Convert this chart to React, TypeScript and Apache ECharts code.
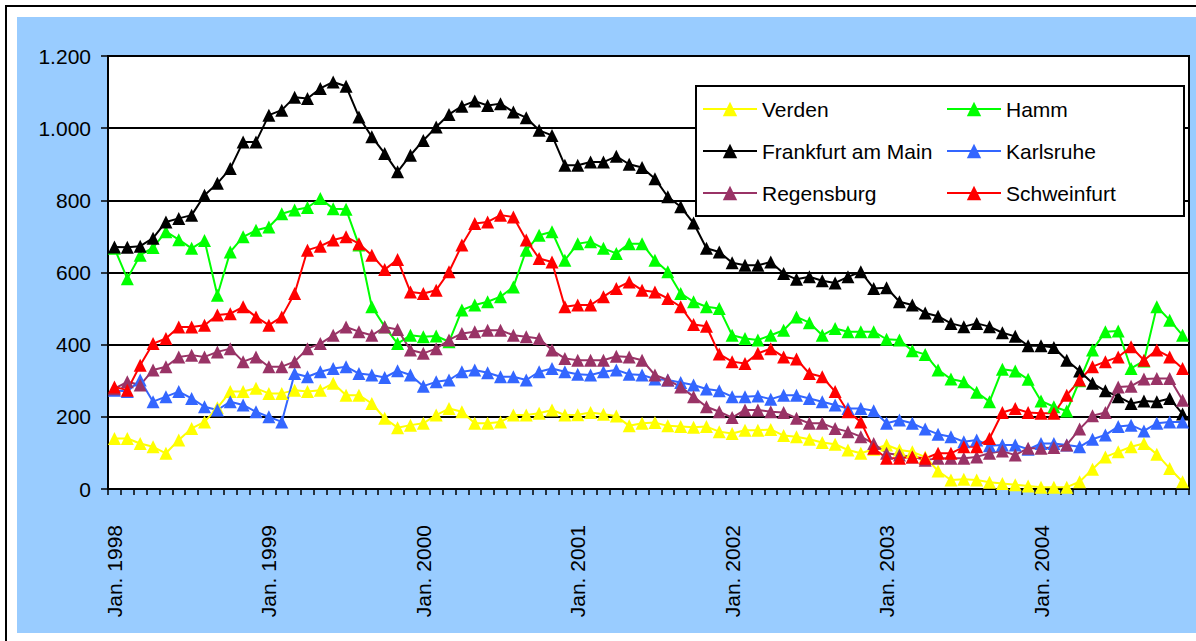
import React, { useEffect, useRef } from "react";
import * as echarts from "echarts";

const monthNames = ["Jan.", "Feb.", "März", "Apr.", "Mai", "Juni", "Juli", "Aug.", "Sep.", "Okt.", "Nov.", "Dez."];
const years = [1998, 1999, 2000, 2001, 2002, 2003, 2004];
const categories: string[] = [];
years.forEach((y) => monthNames.forEach((m) => categories.push(`${m} ${y}`)));

const seriesNames = ["Verden", "Hamm", "Frankfurt am Main", "Karlsruhe", "Regensburg", "Schweinfurt"];
const seriesColors = ["#FFFF00", "#00FF00", "#000000", "#3366FF", "#993366", "#FF0000"];

const verden = [140, 140, 126, 117, 99, 136, 168, 186, 225, 270, 270, 279, 265, 265, 274, 270, 274, 293, 260, 260, 237, 196, 170, 177, 182, 205, 223, 214, 182, 182, 186, 205, 205, 210, 219, 205, 206, 212, 207, 202, 175, 182, 184, 175, 173, 171, 173, 159, 154, 163, 163, 165, 148, 145, 138, 129, 124, 108, 99, 110, 122, 108, 103, 89, 50, 25, 27, 25, 19, 15, 12, 8, 5, 5, 5, 20, 55, 89, 103, 117, 126, 96, 57, 20];
const hamm = [667, 583, 648, 669, 713, 691, 667, 689, 537, 657, 699, 717, 726, 763, 773, 780, 805, 777, 775, 676, 505, 450, 403, 426, 422, 424, 408, 496, 510, 519, 533, 560, 662, 703, 713, 634, 680, 685, 667, 653, 680, 680, 634, 602, 542, 519, 505, 500, 426, 417, 413, 426, 440, 477, 461, 426, 445, 436, 436, 436, 415, 413, 383, 373, 330, 305, 297, 268, 242, 332, 327, 304, 244, 228, 216, 300, 385, 436, 438, 334, 355, 505, 468, 426];
const frankfurt = [671, 670, 673, 695, 740, 750, 759, 814, 847, 888, 962, 962, 1036, 1050, 1086, 1082, 1110, 1128, 1116, 1031, 976, 930, 879, 925, 966, 1003, 1038, 1061, 1075, 1063, 1068, 1045, 1029, 994, 980, 897, 897, 906, 906, 922, 900, 891, 860, 810, 782, 737, 667, 657, 627, 620, 620, 629, 597, 581, 588, 577, 571, 588, 602, 556, 558, 519, 510, 488, 479, 459, 450, 459, 450, 433, 423, 397, 397, 392, 357, 327, 293, 272, 256, 237, 244, 242, 251, 208];
const karlsruhe = [274, 270, 302, 242, 256, 270, 251, 228, 219, 242, 233, 214, 200, 186, 320, 311, 325, 334, 339, 320, 316, 309, 328, 316, 285, 297, 302, 325, 330, 322, 311, 311, 302, 325, 334, 325, 318, 316, 325, 330, 318, 316, 305, 302, 295, 288, 277, 272, 256, 256, 258, 249, 260, 260, 251, 242, 233, 223, 223, 217, 182, 191, 182, 166, 152, 145, 131, 136, 120, 122, 122, 110, 126, 126, 122, 117, 138, 150, 173, 177, 161, 182, 186, 186];
const regensburg = [278, 297, 288, 330, 339, 366, 371, 366, 380, 389, 353, 366, 339, 339, 353, 389, 403, 426, 449, 436, 426, 449, 442, 385, 376, 389, 413, 431, 436, 440, 440, 426, 422, 417, 385, 362, 357, 357, 357, 368, 366, 357, 316, 302, 283, 256, 228, 214, 198, 219, 219, 214, 212, 196, 182, 182, 168, 159, 145, 126, 99, 94, 89, 80, 85, 85, 85, 89, 99, 105, 94, 113, 113, 115, 122, 166, 203, 212, 283, 285, 305, 306, 306, 246];
const schweinfurt = [283, 274, 343, 403, 417, 449, 449, 454, 482, 486, 505, 477, 454, 477, 542, 662, 673, 690, 699, 680, 648, 608, 636, 546, 542, 551, 602, 676, 736, 740, 759, 754, 690, 639, 629, 505, 510, 510, 533, 556, 574, 551, 546, 528, 505, 456, 451, 374, 353, 348, 376, 389, 366, 360, 320, 311, 270, 214, 186, 113, 85, 85, 89, 85, 99, 99, 117, 117, 140, 212, 223, 212, 210, 210, 260, 302, 339, 353, 366, 394, 357, 385, 366, 334];

const seriesValues = [verden, hamm, frankfurt, karlsruhe, regensburg, schweinfurt];

const FONT = "'Liberation Sans', Arial, sans-serif";

function fmtY(v: number): string {
  if (v >= 1000) {
    const t = Math.floor(v / 1000);
    const r = String(v % 1000).padStart(3, "0");
    return `${t}.${r}`;
  }
  return String(v);
}

export default function App() {
  const ref = useRef<HTMLDivElement>(null);
  useEffect(() => {
    if (!ref.current) return;
    const chart = echarts.init(ref.current, undefined, { renderer: "svg" });
    chart.setOption({
      animation: false,
      backgroundColor: "#ffffff",
      graphic: [
        {
          type: "rect",
          z: -10,
          silent: true,
          shape: { x: 17, y: 17, width: 1190, height: 616 },
          style: { fill: "#99CCFF" },
        },
        {
          type: "rect",
          z: -10,
          silent: true,
          shape: { x: 6, y: 6, width: 1200, height: 640 },
          style: { fill: "none", stroke: "#000000", lineWidth: 2 },
        },
      ],
      grid: {
        left: 108,
        top: 56,
        right: 7,
        bottom: 152,
        show: true,
        backgroundColor: "#ffffff",
        borderColor: "#000000",
        borderWidth: 2,
      },
      legend: {
        left: 696,
        top: 86,
        width: 480,
        orient: "horizontal",
        padding: [7, 4, 7, 6],
        itemGap: 10,
        itemWidth: 54,
        itemHeight: 18,
        backgroundColor: "#ffffff",
        borderColor: "#000000",
        borderWidth: 2,
        data: seriesNames,
        textStyle: {
          fontSize: 21,
          fontFamily: FONT,
          color: "#000000",
          width: 174,
          lineHeight: 32,
        },
      },
      xAxis: {
        type: "category",
        data: categories,
        boundaryGap: true,
        axisLine: { show: true, lineStyle: { color: "#000000", width: 2 } },
        axisTick: { show: true, interval: 0, length: 6, lineStyle: { color: "#000000", width: 1.5 } },
        axisLabel: {
          interval: 11,
          rotate: 90,
          margin: 36,
          padding: [0, 0, 8, 0],
          fontSize: 21,
          fontFamily: FONT,
          color: "#000000",
        },
        splitLine: { show: false },
      },
      yAxis: {
        type: "value",
        min: 0,
        max: 1200,
        interval: 200,
        axisLine: { show: true, lineStyle: { color: "#000000", width: 2 } },
        axisTick: { show: true, length: 7, lineStyle: { color: "#000000", width: 1.5 } },
        axisLabel: {
          margin: 17,
          fontSize: 21,
          fontFamily: FONT,
          color: "#000000",
          formatter: (v: number) => fmtY(v),
        },
        splitLine: { show: true, lineStyle: { color: "#000000", width: 2 } },
      },
      series: seriesNames.map((name, i) => ({
        name,
        type: "line",
        data: seriesValues[i],
        symbol: "triangle",
        symbolSize: 13,
        showAllSymbol: true,
        lineStyle: { color: seriesColors[i], width: 2 },
        itemStyle: { color: seriesColors[i], borderWidth: 0 },
        emphasis: { disabled: true },
      })),
    });
    return () => chart.dispose();
  }, []);
  return (
    <div
      ref={ref}
      style={{ position: "fixed", left: 0, top: 0, width: 1196, height: 641 }}
    />
  );
}
